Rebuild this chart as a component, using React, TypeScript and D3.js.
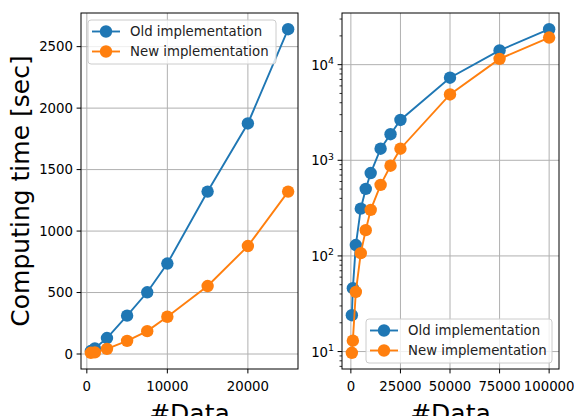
import React, { useRef, useEffect } from 'react';
import * as d3 from 'd3';

// data
const nData = [500, 1000, 2500, 5000, 7500, 10000, 15000, 20000, 25000, 50000, 75000, 100000];
const oldTime = [24, 46, 130, 312, 502, 736, 1321, 1875, 2642, 7300, 14100, 23500];
const newTime = [9.7, 13, 42, 107, 186, 303, 553, 878, 1321, 4880, 11500, 19200];
const seriesNames = ['Old implementation', 'New implementation'];
const seriesColors = ['#1f77b4', '#ff7f0e'];

const leftXTicks = [0, 10000, 20000];
const leftYTicks = [0, 500, 1000, 1500, 2000, 2500];
const rightXTicks = [0, 25000, 50000, 75000, 100000];
const rightYExp = [1, 2, 3, 4];

const W = 574;
const H = 416;
const FONT = 'DejaVu Sans, sans-serif';
const FS = 13.3;

function App() {
  const svgRef = useRef<SVGSVGElement>(null);

  useEffect(() => {
    const svg = d3.select(svgRef.current);
    svg.selectAll('*').remove();

    const top = 13;
    const bottom = 369;

    const pad = (lo: number, hi: number) => [lo - (hi - lo) * 0.05, hi + (hi - lo) * 0.05];

    const series = [oldTime, newTime];

    const drawPanel = (
      x0: number,
      x1: number,
      count: number,
      logY: boolean,
      xTicks: number[],
      legendPos: 'top' | 'bottom'
    ) => {
      const xs = nData.slice(0, count);
      const ys = series.map((s) => s.slice(0, count));
      const allY = ys.flat();
      const xScale = d3.scaleLinear().domain(pad(d3.min(xs)!, d3.max(xs)!)).range([x0, x1]);
      let yScale: any;
      if (logY) {
        const [a, b] = pad(Math.log10(d3.min(allY)!), Math.log10(d3.max(allY)!));
        yScale = d3.scaleLog().domain([10 ** a, 10 ** b]).range([bottom, top]);
      } else {
        yScale = d3.scaleLinear().domain(pad(d3.min(allY)!, d3.max(allY)!)).range([bottom, top]);
      }

      const g = svg.append('g');
      g.append('rect')
        .attr('x', x0).attr('y', top)
        .attr('width', x1 - x0).attr('height', bottom - top)
        .attr('fill', 'white');

      const yTicks: number[] = logY ? rightYExp.map((e) => 10 ** e) : leftYTicks;

      // grid
      g.selectAll('.gx').data(xTicks).join('line')
        .attr('x1', (d) => xScale(d)).attr('x2', (d) => xScale(d))
        .attr('y1', top).attr('y2', bottom)
        .attr('stroke', '#b0b0b0').attr('stroke-width', 1);
      g.selectAll('.gy').data(yTicks).join('line')
        .attr('class', 'gy')
        .attr('x1', x0).attr('x2', x1)
        .attr('y1', (d) => yScale(d)).attr('y2', (d) => yScale(d))
        .attr('stroke', '#b0b0b0').attr('stroke-width', 1);

      // lines + markers
      const line = d3.line<number>()
        .x((_, i) => xScale(xs[i]))
        .y((d) => yScale(d));
      ys.forEach((s, k) => {
        g.append('path')
          .attr('d', line(s))
          .attr('fill', 'none')
          .attr('stroke', seriesColors[k])
          .attr('stroke-width', 1.9);
        g.selectAll(null).data(s).join('circle')
          .attr('cx', (_, i) => xScale(xs[i]))
          .attr('cy', (d) => yScale(d))
          .attr('r', 6.2)
          .attr('fill', seriesColors[k]);
      });

      // frame
      g.append('rect')
        .attr('x', x0).attr('y', top)
        .attr('width', x1 - x0).attr('height', bottom - top)
        .attr('fill', 'none').attr('stroke', 'black').attr('stroke-width', 1);

      // x ticks
      xTicks.forEach((t) => {
        const px = xScale(t);
        g.append('line').attr('x1', px).attr('x2', px).attr('y1', bottom).attr('y2', bottom + 4.4)
          .attr('stroke', 'black').attr('stroke-width', 1);
        g.append('text').attr('x', px).attr('y', bottom + 22)
          .attr('text-anchor', 'middle').attr('font-family', FONT).attr('font-size', FS)
          .text(String(t));
      });

      // y ticks
      yTicks.forEach((t, i) => {
        const py = yScale(t);
        g.append('line').attr('x1', x0 - 4.4).attr('x2', x0).attr('y1', py).attr('y2', py)
          .attr('stroke', 'black').attr('stroke-width', 1);
        if (logY) {
          const tx = g.append('text').attr('x', x0 - 8).attr('y', py + 5)
            .attr('text-anchor', 'end').attr('font-family', FONT).attr('font-size', FS);
          tx.append('tspan').text('10');
          tx.append('tspan').attr('font-size', 9.3).attr('dy', -5.5).text(String(rightYExp[i]));
        } else {
          g.append('text').attr('x', x0 - 8).attr('y', py + 4.8)
            .attr('text-anchor', 'end').attr('font-family', FONT).attr('font-size', FS)
            .text(String(t));
        }
      });

      if (logY) {
        const [lo, hi] = yScale.domain();
        const minor: number[] = [];
        for (let e = Math.floor(Math.log10(lo)); e <= Math.ceil(Math.log10(hi)); e++) {
          for (let m = 2; m <= 9; m++) {
            const v = m * 10 ** e;
            if (v >= lo && v <= hi) minor.push(v);
          }
        }
        g.selectAll(null).data(minor).join('line')
          .attr('x1', x0 - 2.5).attr('x2', x0)
          .attr('y1', (d) => yScale(d)).attr('y2', (d) => yScale(d))
          .attr('stroke', 'black').attr('stroke-width', 0.8);
      }

      // x label
      g.append('text').attr('x', (x0 + x1) / 2).attr('y', 422)
        .attr('text-anchor', 'middle').attr('font-family', FONT).attr('font-size', 25)
        .text('#Data');

      // legend
      const lw = legendPos === 'top' ? 188 : 186;
      const lx = legendPos === 'top' ? x0 + 7 : x1 - 7 - lw;
      const ly = legendPos === 'top' ? top + 7 : bottom - 6 - 44;
      const leg = g.append('g');
      leg.append('rect')
        .attr('x', lx).attr('y', ly).attr('width', lw).attr('height', 44)
        .attr('rx', 3).attr('fill', 'white').attr('fill-opacity', 0.8)
        .attr('stroke', '#cccccc').attr('stroke-width', 1);
      seriesNames.forEach((name, k) => {
        const ry = ly + 11.5 + k * 20;
        leg.append('line').attr('x1', lx + 4).attr('x2', lx + 32).attr('y1', ry).attr('y2', ry)
          .attr('stroke', seriesColors[k]).attr('stroke-width', 1.9);
        leg.append('circle').attr('cx', lx + 18).attr('cy', ry).attr('r', 6.2)
          .attr('fill', seriesColors[k]);
        leg.append('text').attr('x', lx + 42).attr('y', ry + 4.8)
          .attr('font-family', FONT).attr('font-size', FS).attr('fill', '#222')
          .text(name);
      });
    };

    drawPanel(81, 298, 9, false, leftXTicks, 'top');
    drawPanel(342, 559, 12, true, rightXTicks, 'bottom');

    svg.append('text')
      .attr('transform', `translate(29, ${(top + bottom) / 2}) rotate(-90)`)
      .attr('text-anchor', 'middle').attr('font-family', FONT).attr('font-size', 25)
      .text('Computing time [sec]');
  }, []);

  return (
    <svg
      ref={svgRef}
      width={W}
      height={H}
      style={{ position: 'absolute', left: 0, top: 0, background: 'white' }}
    />
  );
}

export default App;
